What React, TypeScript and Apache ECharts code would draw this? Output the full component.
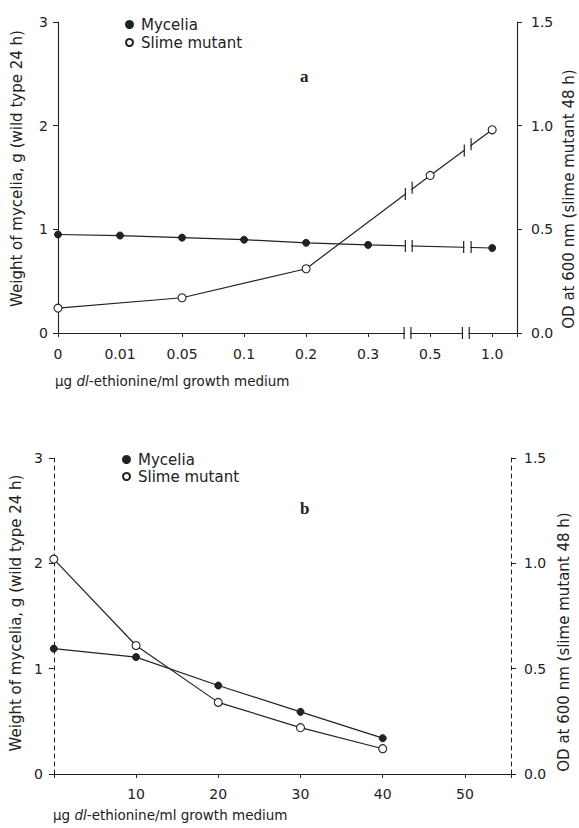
import React, { useEffect, useRef } from "react";
import * as echarts from "echarts";

// ---- data (panel a) ----
const topXLabels = ["0", "0.01", "0.05", "0.1", "0.2", "0.3", "0.5", "1.0"];
const topMycelia: (number | null)[] = [0.95, 0.94, 0.92, 0.9, 0.87, 0.85, null, 0.82];
const topSlime: (number | null)[] = [0.12, null, 0.17, null, 0.31, null, 0.76, 0.98];
// axis break marks [x1, y1, x2, y2] (x in category index units)
const topAxisBreaks = [
  [5.58, 0, 5.69, 0],
  [6.52, 0, 6.63, 0],
];
const topMyceliaBreaks = [
  [5.6, 0.84, 5.71, 0.84],
  [6.54, 0.83, 6.66, 0.83],
];
const topSlimeBreaks = [
  [5.6, 0.67, 5.71, 0.7],
  [6.55, 0.88, 6.66, 0.91],
];

// ---- data (panel b) ----
const bottomX = [0, 10, 20, 30, 40];
const bottomMycelia = [1.19, 1.11, 0.84, 0.59, 0.34];
const bottomSlime = [1.02, 0.61, 0.34, 0.22, 0.12];

const legendNames = ["Mycelia", "Slime mutant"];
const leftTitle = "Weight of mycelia, g (wild type 24 h)";
const rightTitle = "OD at 600 nm (slime mutant 48 h)";
const xTitleRich = "{n|μg }{i|dl}{n|-ethionine/ml growth medium}";

const INK = "#222";
const FONT = "DejaVu Sans";

function renderBreak(_params: any, api: any) {
  const a = api.coord([api.value(0), api.value(1)]);
  const b = api.coord([api.value(2), api.value(3)]);
  const h = 6;
  return {
    type: "group",
    children: [
      {
        type: "polygon",
        shape: {
          points: [
            [a[0] + 0.8, a[1] - h - 2],
            [b[0] - 0.8, b[1] - h - 2],
            [b[0] - 0.8, b[1] + h + 2],
            [a[0] + 0.8, a[1] + h + 2],
          ],
        },
        style: { fill: "#fff" },
      },
      { type: "line", shape: { x1: a[0], y1: a[1] - h, x2: a[0], y2: a[1] + h }, style: { stroke: INK, lineWidth: 1.2 } },
      { type: "line", shape: { x1: b[0], y1: b[1] - h, x2: b[0], y2: b[1] + h }, style: { stroke: INK, lineWidth: 1.2 } },
    ],
  };
}

function toPairs(xs: number[], ys: (number | null)[]) {
  const out: number[][] = [];
  ys.forEach((v, i) => {
    if (v !== null) out.push([xs[i], v]);
  });
  return out;
}

const myceliaStyle = {
  symbol: "circle",
  symbolSize: 7,
  itemStyle: { color: INK, borderColor: INK, borderWidth: 1 },
  lineStyle: { color: INK, width: 1.2 },
};
const slimeStyle = {
  symbol: "circle",
  symbolSize: 8,
  itemStyle: { color: "#fff", borderColor: INK, borderWidth: 1.1 },
  lineStyle: { color: INK, width: 1.2 },
};

export default function App() {
  const ref = useRef<HTMLDivElement>(null);
  useEffect(() => {
    if (!ref.current) return;
    const chart = echarts.init(ref.current, undefined, { renderer: "svg" });
    const topIdx = topXLabels.map((_, i) => i);

    const axisText = { color: INK, fontFamily: FONT, fontSize: 14 };
    const nameStyle = { color: INK, fontFamily: FONT, fontSize: 15 };
    const xTitleStyle = {
      text: xTitleRich,
      rich: {
        n: { fontFamily: FONT, fontSize: 13.5, fill: INK, color: INK },
        i: { fontFamily: FONT, fontSize: 13.5, fontStyle: "italic", fill: INK, color: INK },
      },
    };
    const rightTitleStyle = {
      text: rightTitle,
      fill: INK,
      fontFamily: FONT,
      fontSize: 15,
      align: "center",
      verticalAlign: "middle",
    };

    const yAxisCommon = {
      type: "value",
      splitLine: { show: false },
      axisTick: { show: true, length: 5, lineStyle: { color: INK } },
      nameLocation: "middle",
      nameRotate: 90,
    };

    const option: any = {
      animation: false,
      backgroundColor: "#fff",
      grid: [
        { left: 58, top: 22, width: 459, height: 311 },
        { left: 53, top: 458, width: 458, height: 316 },
      ],
      legend: [
        {
          data: legendNames.map((n) => ({ name: n, icon: "circle" })),
          orient: "vertical",
          left: 120,
          top: 12,
          itemWidth: 7,
          itemHeight: 7,
          itemGap: 3,
          selectedMode: false,
          textStyle: { color: INK, fontFamily: FONT, fontSize: 15, padding: [0, 0, 0, 3] },
        },
        {
          data: legendNames.map((n) => ({ name: n, icon: "circle" })),
          orient: "vertical",
          left: 117,
          top: 447,
          itemWidth: 7,
          itemHeight: 7,
          itemGap: 2,
          selectedMode: false,
          textStyle: { color: INK, fontFamily: FONT, fontSize: 15, padding: [0, 0, 0, 3] },
        },
      ],
      xAxis: [
        {
          type: "value",
          gridIndex: 0,
          min: 0,
          max: 7.4,
          interval: 1,
          splitLine: { show: false },
          axisLine: { lineStyle: { color: INK, width: 1.1 } },
          axisTick: { length: 4, lineStyle: { color: INK } },
          axisLabel: {
            ...axisText,
            margin: 14,
            formatter: (v: number) => (Number.isInteger(v) && v < topXLabels.length ? topXLabels[v] : ""),
          },
        },
        {
          type: "value",
          gridIndex: 1,
          min: 0,
          max: 55.6,
          interval: 10,
          splitLine: { show: false },
          axisLine: { lineStyle: { color: INK, width: 1.1 } },
          axisTick: { length: 4, lineStyle: { color: INK } },
          axisLabel: {
            ...axisText,
            margin: 13,
            formatter: (v: number) => (v > 0 && v % 10 === 0 ? String(v) : ""),
          },
        },
      ],
      yAxis: [
        {
          ...yAxisCommon,
          gridIndex: 0,
          position: "left",
          min: 0,
          max: 3,
          interval: 1,
          axisLine: { show: true, lineStyle: { color: INK, width: 1.1 } },
          axisLabel: { ...axisText, margin: 10 },
          name: leftTitle,
          nameGap: 34,
          nameTextStyle: { ...nameStyle, padding: [0, 0, 0, 18] },
        },
        {
          ...yAxisCommon,
          gridIndex: 0,
          position: "right",
          min: 0,
          max: 1.5,
          interval: 0.5,
          axisLine: { show: true, lineStyle: { color: INK, width: 1.1 } },
          axisLabel: { ...axisText, margin: 14, formatter: (v: number) => v.toFixed(1) },
        },
        {
          ...yAxisCommon,
          gridIndex: 1,
          position: "left",
          min: 0,
          max: 3,
          interval: 1,
          axisLine: { show: true, lineStyle: { color: INK, width: 1, type: [4, 4] } },
          axisLabel: { ...axisText, margin: 11 },
          name: leftTitle,
          nameGap: 30,
          nameTextStyle: { ...nameStyle, padding: [0, 0, 0, 6] },
        },
        {
          ...yAxisCommon,
          gridIndex: 1,
          position: "right",
          min: 0,
          max: 1.5,
          interval: 0.5,
          axisLine: { show: true, lineStyle: { color: INK, width: 1, type: [4, 4] } },
          axisLabel: { ...axisText, margin: 13, formatter: (v: number) => v.toFixed(1) },
        },
      ],
      series: [
        { type: "line", name: "Mycelia", xAxisIndex: 0, yAxisIndex: 0, data: toPairs(topIdx, topMycelia), ...myceliaStyle },
        { type: "line", name: "Slime mutant", xAxisIndex: 0, yAxisIndex: 1, data: toPairs(topIdx, topSlime), ...slimeStyle },
        {
          type: "custom", name: "axisBreak", xAxisIndex: 0, yAxisIndex: 0, z: 10, clip: false,
          renderItem: renderBreak, data: topAxisBreaks, encode: { x: [0, 2], y: [1, 3] },
        },
        {
          type: "custom", name: "myceliaBreak", xAxisIndex: 0, yAxisIndex: 0, z: 10, clip: false,
          renderItem: renderBreak, data: topMyceliaBreaks, encode: { x: [0, 2], y: [1, 3] },
        },
        {
          type: "custom", name: "slimeBreak", xAxisIndex: 0, yAxisIndex: 1, z: 10, clip: false,
          renderItem: renderBreak, data: topSlimeBreaks, encode: { x: [0, 2], y: [1, 3] },
        },
        { type: "line", name: "Mycelia", xAxisIndex: 1, yAxisIndex: 2, data: toPairs(bottomX, bottomMycelia), ...myceliaStyle },
        { type: "line", name: "Slime mutant", xAxisIndex: 1, yAxisIndex: 3, data: toPairs(bottomX, bottomSlime), ...slimeStyle },
      ],
      graphic: [
        {
          type: "text", left: 300, top: 68,
          style: { text: "a", fill: INK, font: "bold 17px 'Liberation Serif'" },
        },
        {
          type: "text", left: 300, top: 500,
          style: { text: "b", fill: INK, font: "bold 17px 'Liberation Serif'" },
        },
        { type: "text", left: 55, top: 374, style: xTitleStyle },
        { type: "text", left: 53, top: 808, style: xTitleStyle },
        { type: "text", x: 569, y: 199, rotation: Math.PI / 2, style: rightTitleStyle },
        { type: "text", x: 564, y: 642, rotation: Math.PI / 2, style: rightTitleStyle },
      ],
    };
    chart.setOption(option);
    return () => chart.dispose();
  }, []);
  return (
    <div
      ref={ref}
      style={{ position: "absolute", left: 0, top: 0, width: 579, height: 828, background: "#fff" }}
    />
  );
}
